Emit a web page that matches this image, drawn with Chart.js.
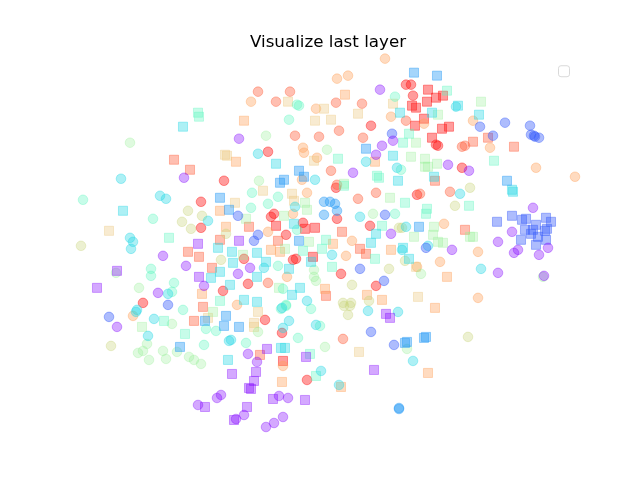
<!DOCTYPE html>
<html>
<head>
<meta charset="utf-8">
<script src="https://cdn.jsdelivr.net/npm/chart.js@4"></script>
<style>
  html, body { margin: 0; padding: 0; background: #fff; }
  #wrap { width: 640px; height: 480px; }
</style>
</head>
<body>
<div id="wrap"><canvas id="chart" width="640" height="480"></canvas></div>
<script>
// embedding coordinates (x right, y down)
const xRange = [80, 576];
const yRange = [57.6, 427.2];

const purpleCircles = [[239,139],[184,178],[380,90],[393,141],[382,146],[376,155],[353,173],[448,165],[469,171],
  [163,256],[158,293],[186,266],[238,274],[204,286],[391,234],[250,268],[452,250],[498,273],[533,208],
  [512,232],[498,242],[518,250],[514,253],[539,255],[548,248],[544,276],[117,327],[248,354],[221,395],
  [217,398],[198,405],[244,415],[236,419],[257,362],[279,396],[288,398],[283,417],[274,423],[266,427]];
const purpleSquares = [[117,271],[97,288],[198,244],[239,241],[199,277],[232,374],[249,388],[205,407],
  [247,407],[234,420],[267,349],[306,357],[386,314],[390,318],[374,370],[256,372],[254,381],[251,389],
  [273,399],[305,400]];
const blueCircles = [[392,134],[480,127],[505,123],[530,126],[531,135],[534,136],[535,137],[539,138],
  [493,136],[238,216],[385,215],[258,235],[254,241],[360,269],[384,281],[426,248],[168,305],[109,317],
  [371,332],[394,345]];
const blueSquares = [[497,222],[512,216],[522,220],[526,219],[546,218],[551,222],[536,225],[525,230],
  [531,234],[533,230],[547,229],[545,231],[521,240],[538,237],[546,240],[536,245]];
const skyCircles = [[324,202],[330,202],[335,204],[337,211],[324,215],[399,408],[399,409]];
const skySquares = [[414,73],[437,76],[366,149],[299,171],[304,177],[284,180],[280,183],[507,181],
  [220,198],[229,210],[299,241],[419,227],[180,347],[205,321],[226,316],[224,326],[239,327],[405,343],
  [407,342],[426,337],[424,338]];
const cyanCircles = [[121,179],[258,154],[366,162],[397,168],[315,180],[456,107],[160,196],[166,199],
  [130,238],[133,242],[131,249],[168,294],[208,221],[295,207],[360,217],[406,227],[402,250],[332,255],
  [264,268],[307,301],[282,308],[460,194],[428,246],[481,269],[137,310],[136,312],[154,319],[148,336],
  [229,341],[231,340],[289,321],[283,328],[316,325],[368,311],[398,312],[413,361],[321,371],[339,385]];
const cyanSquares = [[183,127],[400,113],[393,156],[276,164],[398,181],[458,106],[432,113],[479,115],
  [434,177],[123,211],[218,248],[232,252],[233,263],[220,272],[211,278],[230,285],[244,300],[294,224],
  [376,234],[371,243],[403,248],[409,259],[257,253],[266,262],[311,262],[289,269],[257,277],[300,288],
  [292,295],[257,302],[513,192],[512,190],[228,360],[281,348],[285,348]];
const mintCircles = [[395,97],[297,105],[299,106],[289,120],[401,170],[83,200],[153,219],[151,269],
  [151,276],[174,283],[172,292],[252,193],[278,197],[268,204],[251,208],[395,214],[297,230],[278,266],
  [283,289],[286,305],[183,310],[206,329],[216,331],[204,345],[246,343],[281,309],[286,306],[311,309],
  [298,338],[320,326]];
const mintSquares = [[198,113],[199,117],[409,134],[403,143],[338,159],[377,176],[379,178],[447,91],
  [494,161],[169,238],[220,301],[344,186],[405,203],[326,240],[322,249],[382,226],[303,251],[375,259],
  [332,267],[469,206],[427,209],[426,214],[164,321],[185,334],[310,354],[316,376]];
const lgreenCircles = [[130,143],[266,136],[327,150],[259,181],[116,273],[139,288],[373,214],[314,270],
  [314,277],[316,281],[421,274],[543,277],[172,324],[147,344],[138,353],[143,351],[149,360],[163,351],
  [166,359],[177,352],[189,357],[194,360],[201,364],[258,332],[325,347],[407,349]];
const lgreenSquares = [[416,143],[411,157],[344,184],[481,102],[438,115],[425,159],[428,167],[425,167],
  [437,164],[246,219],[243,255],[390,198],[305,203],[307,210],[284,216],[309,242],[414,237],[285,249],
  [279,288],[434,227],[433,235],[470,237],[473,237],[438,242],[443,243],[142,327],[213,312]];
const ygreenCircles = [[81,246],[188,211],[202,216],[182,222],[191,229],[226,234],[221,260],[399,228],
  [402,228],[405,261],[389,269],[352,285],[343,303],[351,303],[369,301],[470,188],[455,206],[111,346],
  [348,315],[344,306],[350,306],[468,337]];
const tanSquares = [[225,155],[227,156],[288,102],[324,109],[393,104],[358,114],[315,121],[331,120],
  [314,161],[109,231],[235,203],[263,191],[292,194],[294,201],[416,267],[418,297],[208,318],[258,312],
  [254,323],[254,327],[359,352]];
const peachCircles = [[251,102],[385,59],[337,79],[348,76],[316,109],[391,117],[303,148],[304,153],
  [317,158],[302,180],[424,124],[473,121],[490,148],[536,168],[575,177],[237,305],[307,193],[293,214],
  [268,232],[352,241],[346,256],[287,277],[444,224],[478,252],[440,262],[417,267],[478,298],[133,316],
  [283,366]];
const peachSquares = [[244,121],[236,162],[345,95],[375,162],[220,211],[226,227],[202,294],[333,244],
  [391,250],[271,250],[280,252],[325,289],[367,295],[382,300],[447,277],[435,308],[428,373],[282,382],
  [341,387]];
const salmonCircles = [[258,92],[290,92],[276,102],[336,103],[362,104],[406,121],[339,131],[295,136],
  [319,137],[363,138],[331,171],[337,185],[462,147],[465,146],[358,199],[376,193],[268,283],[420,194],
  [450,192],[343,339]];
const salmonSquares = [[174,160],[190,170],[488,138],[473,142],[514,147],[435,181],[220,240],[188,252],
  [199,257],[212,268],[203,307],[249,227],[278,241],[342,232],[360,249],[366,254],[326,296],[465,230],
  [194,321],[260,355]];
const redCircles = [[224,181],[406,85],[411,85],[413,96],[371,126],[268,152],[436,145],[438,146],
  [462,168],[201,202],[201,228],[244,259],[143,303],[223,291],[336,188],[417,195],[337,219],[271,217],
  [274,214],[303,223],[286,235],[370,226],[293,260],[296,259],[341,274],[248,284],[376,286],[265,320],
  [282,333],[307,380]];
const redSquares = [[412,106],[416,108],[415,126],[428,90],[436,98],[443,96],[427,102],[424,119],
  [442,129],[449,127],[432,138],[305,229],[315,228],[276,226],[313,257],[283,361]];

const groups = [
  { label: 'purple', color: 'rgba(128,0,255,0.34)', circles: purpleCircles, squares: purpleSquares },
  { label: 'blue', color: 'rgba(60,95,250,0.42)', circles: blueCircles, squares: blueSquares },
  { label: 'sky', color: 'rgba(30,150,245,0.4)', circles: skyCircles, squares: skySquares },
  { label: 'cyan', color: 'rgba(40,215,230,0.38)', circles: cyanCircles, squares: cyanSquares },
  { label: 'mint', color: 'rgba(90,245,190,0.34)', circles: mintCircles, squares: mintSquares },
  { label: 'lgreen', color: 'rgba(150,240,150,0.3)', circles: lgreenCircles, squares: lgreenSquares },
  { label: 'ygreen', color: 'rgba(200,210,120,0.34)', circles: ygreenCircles, squares: [] },
  { label: 'tan', color: 'rgba(235,195,120,0.34)', circles: [], squares: tanSquares },
  { label: 'peach', color: 'rgba(255,160,90,0.38)', circles: peachCircles, squares: peachSquares },
  { label: 'salmon', color: 'rgba(255,95,60,0.4)', circles: salmonCircles, squares: salmonSquares },
  { label: 'red', color: 'rgba(255,20,20,0.42)', circles: redCircles, squares: redSquares }
];

const toXY = pts => pts.map(p => ({ x: p[0], y: p[1] }));

const datasets = [];
groups.forEach(g => {
  if (g.circles.length) {
    datasets.push({
      label: g.label + ' circles',
      data: toXY(g.circles),
      pointStyle: 'circle',
      pointRadius: 4.8,
      backgroundColor: g.color,
      borderColor: g.color,
      borderWidth: 1,
      clip: false
    });
  }
  if (g.squares.length) {
    datasets.push({
      label: g.label + ' squares',
      data: toXY(g.squares),
      pointStyle: 'rect',
      pointRadius: 6.4,
      backgroundColor: g.color,
      borderColor: g.color,
      borderWidth: 1,
      clip: false
    });
  }
});

// matplotlib leaves an empty legend frame in the top right corner
const emptyLegend = {
  id: 'emptyLegend',
  afterDraw(chart) {
    const a = chart.chartArea;
    const ctx = chart.ctx;
    ctx.save();
    ctx.beginPath();
    ctx.roundRect(a.right - 17.5, a.top + 8.5, 11, 11, 2.5);
    ctx.fillStyle = 'rgba(255,255,255,0.8)';
    ctx.fill();
    ctx.strokeStyle = '#d9d9d9';
    ctx.lineWidth = 1;
    ctx.stroke();
    ctx.restore();
  }
};

new Chart(document.getElementById('chart'), {
  type: 'scatter',
  data: { datasets: datasets },
  options: {
    responsive: false,
    animation: false,
    devicePixelRatio: 1,
    layout: { padding: { left: 80, right: 64, top: 0, bottom: 52.8 } },
    scales: {
      x: { type: 'linear', min: xRange[0], max: xRange[1], display: false },
      y: { type: 'linear', min: yRange[0], max: yRange[1], reverse: true, display: false }
    },
    plugins: {
      legend: { display: false },
      tooltip: { enabled: false },
      title: {
        display: true,
        text: 'Visualize last layer',
        color: '#000',
        font: { family: 'DejaVu Sans', size: 16.7, weight: 'normal', lineHeight: 1.2 },
        padding: { top: 32.8, bottom: 4.4 }
      }
    }
  },
  plugins: [emptyLegend]
});
</script>
</body>
</html>
